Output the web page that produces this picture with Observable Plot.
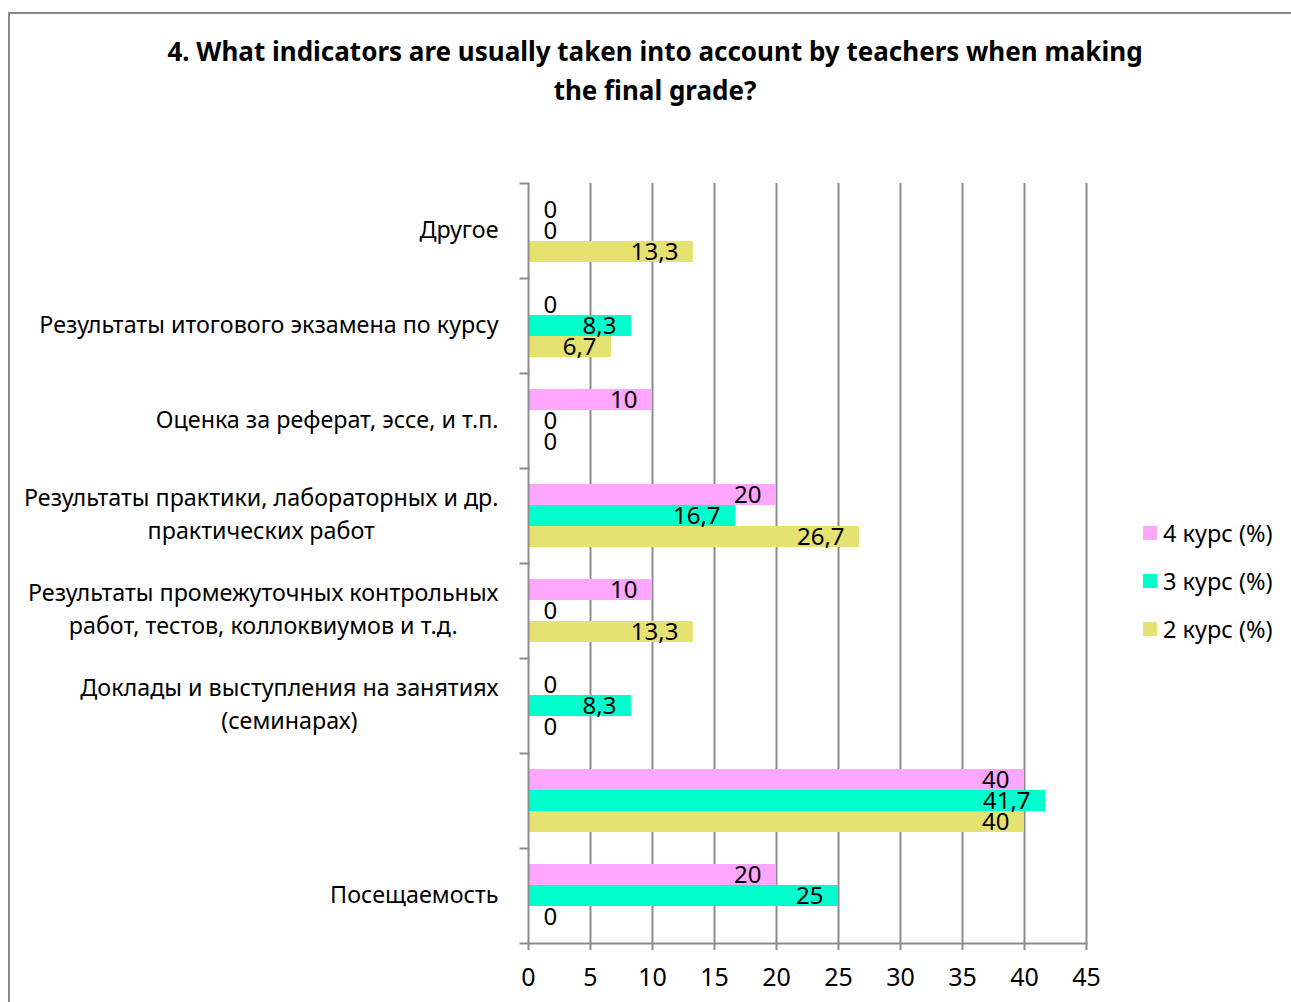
<!DOCTYPE html>
<html>
<head>
<meta charset="utf-8">
<script src="https://cdn.jsdelivr.net/npm/d3@7"></script>
<script src="https://cdn.jsdelivr.net/npm/@observablehq/plot@0.6"></script>
<style>
  body { margin: 0; background: #fff; font-family: "Noto Sans", sans-serif; }
  #wrap { position: relative; width: 1291px; height: 1002px; overflow: hidden; background: #fff; }
  #border { position: absolute; left: 8px; top: 12px; width: 1400px; height: 1100px; border: 2px solid #8c8c8c; box-sizing: border-box; }
  #title { position: absolute; left: 0; width: 1310px; top: 32px; text-align: center; font: bold 26px "Noto Sans"; line-height: 39px; color: #000; }
  #chart { position: absolute; left: 0; top: 0; }
  #legend { position: absolute; left: 1143px; top: 509px; font: 23.5px "Noto Sans"; color: #000; }
  #legend .row { height: 48px; display: flex; align-items: center; white-space: nowrap; }
  #legend .sw { width: 14px; height: 14px; margin-right: 6px; display: inline-block; }
</style>
</head>
<body>
<div id="wrap">
  <div id="border"></div>
  <div id="chart"></div>
  <div id="title">4. What indicators are usually taken into account by teachers when making<br>the final grade?</div>
  <div id="legend"></div>
</div>
<script>
// ---- data ----
const categories = [
  "Другое",
  "Результаты итогового экзамена по курсу",
  "Оценка за реферат, эссе, и т.п.",
  "Результаты практики, лабораторных и др.\nпрактических работ",
  "Результаты промежуточных контрольных\nработ, тестов, коллоквиумов и т.д.",
  "Доклады и выступления на занятиях\n(семинарах)",
  "",
  "Посещаемость"
];
const seriesNames = ["4 курс (%)", "3 курс (%)", "2 курс (%)"];
const kurs4 = [0, 0, 10, 20, 10, 0, 40, 20];
const kurs3 = [0, 8.3, 0, 16.7, 0, 8.3, 41.7, 25];
const kurs2 = [13.3, 6.7, 0, 26.7, 13.3, 0, 40, 0];
const xTicks = [0, 5, 10, 15, 20, 25, 30, 35, 40, 45];
const colors = ["#FFA6FF", "#00FFCC", "#E6E272"];

// ---- build table ----
const seriesValues = [kurs4, kurs3, kurs2];
const data = categories.flatMap((c, i) =>
  seriesNames.map((s, j) => ({ category: c, series: s, value: seriesValues[j][i] }))
);
const fmt = v => String(v).replace(".", ",");

const W = 1291, H = 1002;
const mL = 528, mR = 205, mT = 182, mB = 59;
const plotW = W - mL - mR;
const gray = "#8c8c8c";
const labelFont = 23.3;

// measure label widths for centered multi-line blocks right-aligned to axis
const ctx = document.createElement("canvas").getContext("2d");
ctx.font = `${labelFont}px "Noto Sans"`;
const blockWidth = c => Math.max(...c.split("\n").map(l => ctx.measureText(l).width));

const labelMarks = categories.map(c =>
  Plot.text([c], {
    fy: d => d,
    x: () => 0,
    text: d => d,
    textAnchor: "middle",
    dx: -(30 + blockWidth(c) / 2),
    dy: -4,
    lineHeight: 1.42,
    fontSize: labelFont,
    fill: "#000"
  })
);

const chart = Plot.plot({
  width: W,
  height: H,
  marginLeft: mL,
  marginRight: mR,
  marginTop: mT,
  marginBottom: mB,
  style: { fontFamily: "Noto Sans", fontSize: "22px", color: "#000", background: "transparent" },
  x: { domain: [0, 45], ticks: xTicks },
  fy: { domain: categories, padding: 0, axis: null },
  y: { domain: seriesNames, axis: null, paddingInner: 0, paddingOuter: 0.73 },
  color: { domain: seriesNames, range: colors },
  marks: [
    Plot.ruleX(xTicks.slice(1), { stroke: gray, strokeWidth: 2, strokeOpacity: 1 }),
    Plot.barX(data, { x: "value", y: "series", fy: "category", fill: "series" }),
    Plot.ruleX([0], { stroke: gray, strokeWidth: 2, strokeOpacity: 1 }),
    Plot.frame({ anchor: "top", stroke: gray, strokeWidth: 2, strokeOpacity: 1, insetLeft: -8, insetRight: plotW }),
    Plot.frame({ anchor: "bottom", facetAnchor: "bottom", stroke: gray, strokeWidth: 2, strokeOpacity: 1, insetLeft: -8 }),
    Plot.axisX({ ticks: xTicks, tickSize: 7, tickPadding: 18, stroke: gray, strokeWidth: 2, strokeOpacity: 1, fontSize: 25, fill: "#000", label: null, tickFormat: d => String(d) }),
    Plot.text(data.filter(d => d.value > 0), {
      x: "value", y: "series", fy: "category", text: d => fmt(d.value),
      textAnchor: "end", dx: -15, fontSize: 24, fill: "#000"
    }),
    Plot.text(data.filter(d => d.value === 0), {
      x: "value", y: "series", fy: "category", text: d => fmt(d.value),
      textAnchor: "start", dx: 15, fontSize: 24, fill: "#000"
    }),
    ...labelMarks
  ]
});
document.getElementById("chart").appendChild(chart);

// legend
const legend = document.getElementById("legend");
seriesNames.forEach((s, i) => {
  const row = document.createElement("div");
  row.className = "row";
  const sw = document.createElement("span");
  sw.className = "sw";
  sw.style.background = colors[i];
  row.appendChild(sw);
  row.appendChild(document.createTextNode(s));
  legend.appendChild(row);
});
</script>
</body>
</html>
